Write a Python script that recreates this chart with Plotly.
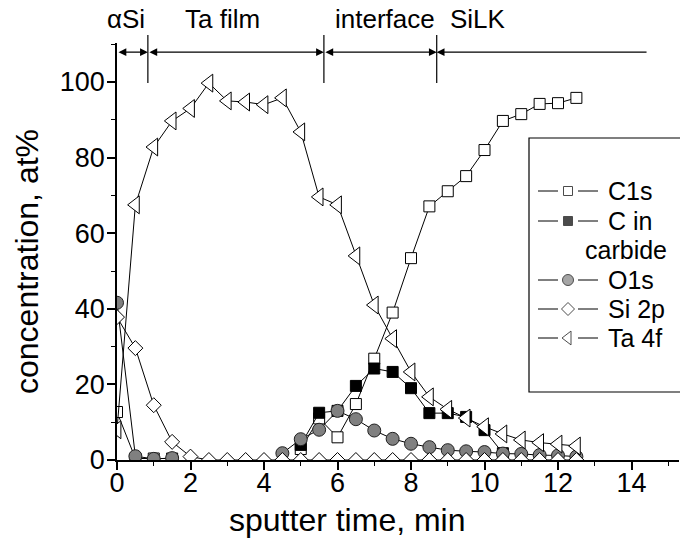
import plotly.graph_objects as go

# ---- depth-profile data (sputter time in minutes, concentration in at%) ----
time_min = [0.0, 0.5, 1.0, 1.5, 2.0, 2.5, 3.0, 3.5, 4.0, 4.5, 5.0, 5.5, 6.0,
            6.5, 7.0, 7.5, 8.0, 8.5, 9.0, 9.5, 10.0, 10.5, 11.0, 11.5, 12.0, 12.5]

c1s = [12.7, 0.4, 0.4, 0.4, None, None, None, None, None, None, 2.9, 11.0, 6.0,
       14.8, 26.8, 39.0, 53.4, 67.1, 71.1, 75.1, 82.0, 89.7, 91.5, 94.2, 94.4, 95.8]

c_carbide = [None, None, None, None, None, None, None, None, None, None, 4.0, 12.5, 13.0,
             19.6, 24.2, 23.3, 19.0, 12.4, 12.4, 11.4, 7.9, 1.8, None, None, None, None]

o1s = [41.6, 1.0, 0.3, 0.5, None, None, None, None, None, 1.8, 5.5, 8.0, 13.0,
       10.8, 7.8, 5.6, 4.3, 3.4, 2.6, 2.3, 2.1, 1.7, 1.6, 1.3, 1.2, 0.9]

si2p = [37.8, 29.6, 14.5, 4.8, 0.9, 0.0, 0.0, 0.0, 0.0, 0.0, 0.0, 0.0, 0.0,
        0.0, 0.0, 0.0, 0.0, 0.0, 0.0, 0.0, 0.0, 0.0, 0.0, 0.0, 0.0, 0.0]

ta4f = [8.0, 67.5, 82.8, 89.7, 93.0, 99.7, 95.0, 94.7, 94.0, 95.8, 86.8, 69.6, 67.5,
        54.0, 41.0, 32.1, 23.3, 16.7, 13.4, 11.1, 8.8, 6.9, 5.3, 4.6, 4.2, 3.7]

# layer regions along the sputter-time axis
region_names = ["αSi", "Ta film", "interface", "SiLK"]
region_bounds = [0.0, 0.84, 5.63, 8.7, 14.45]
region_label_x = [126, 222, 385, 478]   # label centres, px

x_ticks = [0, 2, 4, 6, 8, 10, 12, 14]
y_ticks = [0, 20, 40, 60, 80, 100]

# ---- figure geometry ----
W, H = 680, 542
ML, MR, MT, MB = 117, 1, 43, 82
PW, PH = W - ML - MR, H - MT - MB
FONT = "Liberation Sans, Arial, sans-serif"


def px_x(px):
    return (px - ML) / PW


def px_y(py):
    return (H - MB - py) / PH


series = [
    dict(name="C1s", y=c1s, symbol="square", size=11, fill="white"),
    dict(name="C in carbide", y=c_carbide, symbol="square", size=11, fill="black"),
    dict(name="O1s", y=o1s, symbol="circle", size=13, fill="#808080"),
    dict(name="Si 2p", y=si2p, symbol="diamond", size=11.5, fill="white"),
    dict(name="Ta 4f", y=ta4f, symbol="triangle-left", size=15.5, fill="white"),
]

fig = go.Figure()
for s in series:
    fig.add_trace(go.Scatter(
        x=time_min, y=s["y"], mode="lines+markers", name=s["name"],
        line=dict(color="black", width=1),
        marker=dict(symbol=s["symbol"], size=s["size"], color=s["fill"],
                    line=dict(color="#202020" if s["symbol"] == "circle" else "black", width=1)),
        showlegend=False,
    ))

# ---- hand-built legend box ----
legend_rows_py = [191, 221, 280, 309, 338]
legend_sizes = [9, 9, 11, 10, 12]
fig.add_trace(go.Scatter(
    x=[px_x(568)] * len(series), y=[px_y(p) for p in legend_rows_py],
    xaxis="x2", yaxis="y2", mode="markers", cliponaxis=False, showlegend=False,
    hoverinfo="skip",
    marker=dict(symbol=[s["symbol"] for s in series], size=legend_sizes,
                color=[s["fill"] for s in series],
                line=dict(color="black", width=1)),
))

shapes = []
shapes.append(dict(type="rect", xref="paper", yref="paper",
                   x0=px_x(529), x1=px_x(700), y0=px_y(392), y1=px_y(138),
                   line=dict(color="black", width=1.2), fillcolor="white", layer="below"))
for p in legend_rows_py:
    for a, b in ((538, 558), (578, 598)):
        shapes.append(dict(type="line", xref="paper", yref="paper",
                           x0=px_x(a), x1=px_x(b), y0=px_y(p), y1=px_y(p),
                           line=dict(color="black", width=1)))

annotations = []
legend_text = [("C1s", 606, 191), ("C in", 606, 221), ("carbide", 583, 250),
               ("O1s", 606, 280), ("Si 2p", 606, 309), ("Ta 4f", 606, 338)]
for txt, lx, ly in legend_text:
    annotations.append(dict(text=txt, xref="paper", yref="paper", x=px_x(lx), y=px_y(ly),
                            xanchor="left", yanchor="middle", showarrow=False,
                            font=dict(family=FONT, size=25, color="black")))

# ---- layer bars, arrows and names along the top ----
arrow_y = 107.9
for xb in region_bounds[1:4]:
    shapes.append(dict(type="line", xref="x", yref="paper", x0=xb, x1=xb,
                       y0=px_y(83), y1=px_y(35), line=dict(color="black", width=1.2)))

arrow_common = dict(xref="x", yref="y", axref="x", ayref="y", text="",
                    showarrow=True, arrowcolor="black", arrowwidth=1.2,
                    arrowhead=2, startarrowhead=2, arrowsize=1.3, startarrowsize=1.3,
                    standoff=0, startstandoff=0)
for i in range(3):
    annotations.append(dict(x=region_bounds[i + 1], y=arrow_y,
                            ax=region_bounds[i], ay=arrow_y,
                            arrowside="end+start", **arrow_common))
annotations.append(dict(x=region_bounds[3], y=arrow_y, ax=region_bounds[4], ay=arrow_y,
                        arrowside="end", **arrow_common))

for name, cx in zip(region_names, region_label_x):
    annotations.append(dict(text=name, xref="paper", yref="paper", x=px_x(cx), y=px_y(19),
                            xanchor="center", yanchor="middle", showarrow=False,
                            font=dict(family=FONT, size=26, color="black")))

# ---- axis titles ----
annotations.append(dict(text="sputter time, min", xref="paper", yref="paper",
                        x=px_x(347), y=px_y(520), xanchor="center", yanchor="middle",
                        showarrow=False, font=dict(family=FONT, size=32, color="black")))
annotations.append(dict(text="concentration, at%", xref="paper", yref="paper",
                        x=px_x(27), y=px_y(262), xanchor="center", yanchor="middle",
                        textangle=-90, showarrow=False,
                        font=dict(family=FONT, size=32, color="black")))

axis_common = dict(showgrid=False, zeroline=False, showline=True, linecolor="black",
                   linewidth=1.5, ticks="outside", ticklen=8, tickwidth=1.5,
                   tickcolor="black", tickfont=dict(family=FONT, size=27, color="black"))

fig.update_layout(
    width=W, height=H,
    margin=dict(l=ML, r=MR, t=MT, b=MB),
    paper_bgcolor="white", plot_bgcolor="white",
    xaxis=dict(range=[0, PW / 36.75], tickvals=x_ticks, ticklabelstandoff=-10,
               minor=dict(dtick=1, ticklen=4, tickwidth=1.2, tickcolor="black", ticks="outside"),
               **axis_common),
    yaxis=dict(range=[0, PH / 3.78], tickvals=y_ticks, ticklabelstandoff=-3,
               minor=dict(dtick=10, ticklen=4, tickwidth=1.2, tickcolor="black", ticks="outside"),
               **axis_common),
    xaxis2=dict(overlaying="x", range=[0, 1], visible=False, fixedrange=True),
    yaxis2=dict(overlaying="y", range=[0, 1], visible=False, fixedrange=True),
    shapes=shapes,
    annotations=annotations,
    font=dict(family=FONT, color="black"),
)

fig.write_html("out.html")
